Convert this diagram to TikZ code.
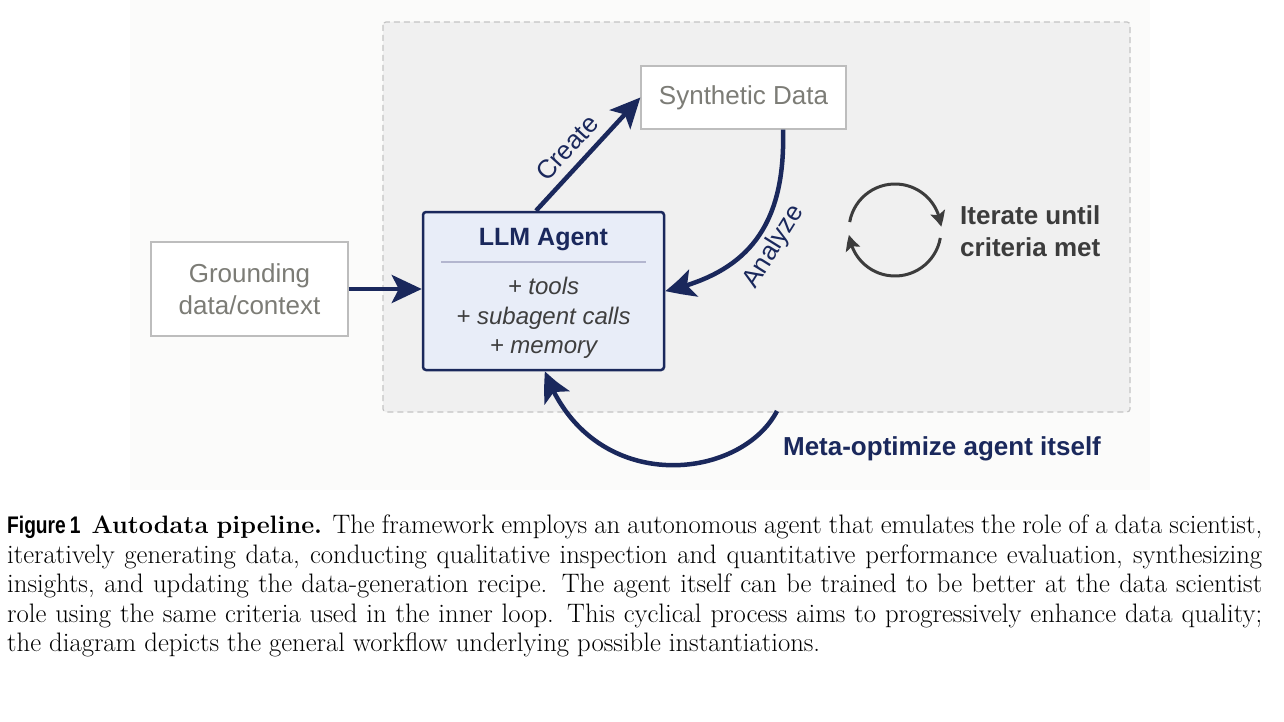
\documentclass[tikz,border=0pt]{standalone}
\usepackage{fontspec}
\usepackage{graphicx}
\usetikzlibrary{arrows.meta,bending}
\newfontfamily\dg{Liberation Sans}
\definecolor{navy}{HTML}{1A285C}
\definecolor{agentfill}{HTML}{E8EDF8}
\definecolor{sepcol}{HTML}{B3B6CF}
\definecolor{boxborder}{HTML}{BDBDBD}
\definecolor{graytext}{HTML}{7C7C76}
\definecolor{bgout}{HTML}{FBFBFA}
\definecolor{bgin}{HTML}{F0F0F0}
\definecolor{dashcol}{HTML}{C4C4C4}
\definecolor{itercol}{HTML}{3C3C3C}
\definecolor{featcol}{HTML}{3E3E3E}
\begin{document}
\begin{tikzpicture}[x=1pt,y=-1pt,
  graybox/.style={draw=boxborder, line width=1.3pt, fill=white, text=graytext, inner sep=0pt,
    font=\dg\fontsize{26}{32}\selectfont, align=center},
  agentbox/.style={draw=navy, line width=2.5pt, fill=agentfill, rounded corners=3pt, inner sep=0pt},
  flow/.style={draw=navy, line width=4.5pt, -{Stealth[length=30pt,width=28pt,inset=7pt,bend]}},
  iter/.style={draw=itercol, line width=3pt, -{Stealth[length=15pt,width=15pt,inset=3pt,bend]}},
  lbl/.style={text=navy, font=\dg\fontsize{26}{32}\selectfont, inner sep=0pt},
  dashbox/.style={draw=dashcol, line width=1.2pt, dash pattern=on 6pt off 4pt, fill=bgin, rounded corners=3pt}
]
\useasboundingbox (0,0) rectangle (1284,722);
\fill[white] (0,0) rectangle (1284,722);
\fill[bgout] (130,0) rectangle (1150,490);
\draw[dashbox] (383,22) rectangle (1130,412);

% nodes
\node[graybox, minimum width=205pt, minimum height=63pt] (syn) at (743.5,97.5) {Synthetic Data};
\node[graybox, minimum width=197pt, minimum height=94pt] (gr) at (249.5,289) {Grounding\\data/context};
\node[agentbox, minimum width=241pt, minimum height=158pt] (llm) at (543.5,291) {};
\node[text=navy, font=\dg\bfseries\fontsize{25}{30}\selectfont, inner sep=0pt] (llmt) at (543.5,239.5) {LLM Agent};
\draw[sepcol, line width=1.5pt] (441,262) -- (646,262);
\node[text=featcol, font=\dg\itshape\fontsize{24}{29.5}\selectfont, align=center, inner sep=0pt] (feat) at (543.5,318) {+ tools\\+ subagent calls\\+ memory};

% connectors
\draw[flow] (gr.east) -- (gr.east -| llm.west);
\draw[flow] ([xshift=-7.5pt]llm.north) -- (syn.west);
\node[lbl, rotate=47.6] (create) at (567,148) {Create};
\draw[flow] ([xshift=39.5pt]syn.south) .. controls (786,232) and (742,274) .. (llm.east);
\node[lbl, rotate=58] (analyze) at (774,247) {Analyze};
\coordinate (m0) at (777,411);
\draw[flow] (m0) .. controls (740,482) and (590,497) .. ([xshift=1.5pt]llm.south);
\node[lbl, font=\dg\bfseries\fontsize{26}{32}\selectfont] (meta) at (942,449) {Meta-optimize agent itself};

% iterate icon
\coordinate (ic) at (895,230);
\draw[iter] (ic) ++(190:46) arc[start angle=190, end angle=356, radius=46];
\draw[iter] (ic) ++(10:46) arc[start angle=10, end angle=174, radius=46];
\node[anchor=west, text=itercol, font=\dg\bfseries\fontsize{26}{32}\selectfont, align=left, inner sep=0pt] (itt) at (960,231) {Iterate until\\criteria met};

% caption
\node[anchor=north west, inner sep=0pt] (cap) at (7,515) {\begin{minipage}{1255pt}\fontsize{26.7}{29.5}\selectfont
\makebox[\linewidth][s]{{\dg\bfseries\fontsize{24}{29.5}\selectfont\scalebox{0.8}[1]{Figure\kern5pt 1}}\hspace{11pt}{\bfseries\fontsize{25.2}{29.5}\selectfont Autodata pipeline.} The framework employs an autonomous agent that emulates the role of a data scientist,}\par
\makebox[\linewidth][s]{iteratively generating data, conducting qualitative inspection and quantitative performance evaluation, synthesizing}\par
\makebox[\linewidth][s]{insights, and updating the data-generation recipe. The agent itself can be trained to be better at the data scientist}\par
\makebox[\linewidth][s]{role using the same criteria used in the inner loop. This cyclical process aims to progressively enhance data quality;}\par
the diagram depicts the general workflow underlying possible instantiations.
\end{minipage}};
\end{tikzpicture}
\end{document}
